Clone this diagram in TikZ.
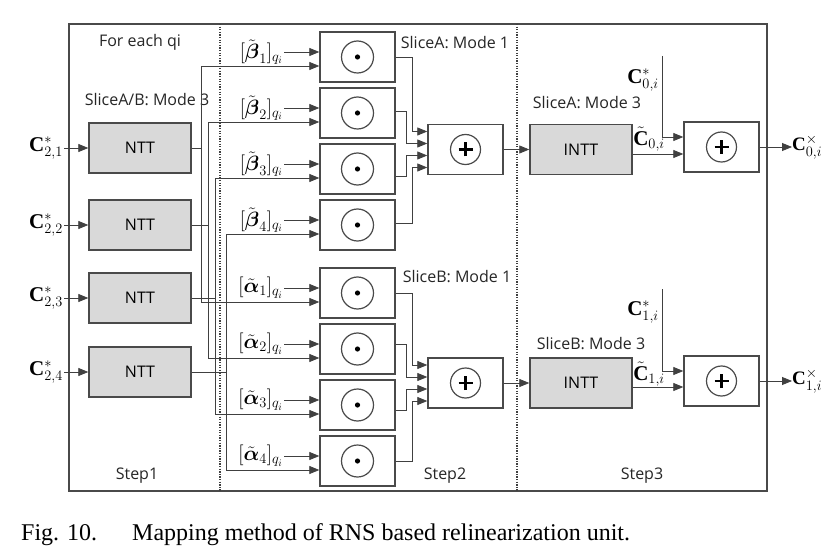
\documentclass[tikz,border=0pt]{standalone}
\usepackage{fontspec}
\usepackage{amsmath}
\setmainfont{Liberation Serif}
\newfontfamily\osans{Open Sans}
\usetikzlibrary{arrows.meta,calc}
\definecolor{lc}{HTML}{404040}
\definecolor{bc}{HTML}{4A4A4A}
\definecolor{boxgray}{HTML}{D9D9D9}
\newcommand{\sansfont}{\osans\fontsize{16}{19}\selectfont}
\newcommand{\mlblfont}{\fontsize{21}{24}\selectfont}
\newcommand{\klblfont}{\fontsize{20}{23}\selectfont}
\newcommand{\olblfont}{\fontsize{19}{22}\selectfont}
\tikzset{
  ln/.style={draw=lc, line width=0.8pt},
  arr/.style={draw=lc, line width=0.8pt, -{Triangle[length=10pt,width=8pt]}},
  gbox/.style={draw=bc, fill=boxgray, line width=1.4pt, minimum width=102pt, minimum height=50pt, inner sep=0pt, font=\sansfont},
  wbox/.style={draw=bc, fill=white, line width=1.4pt, minimum width=75pt, minimum height=50pt, inner sep=0pt},
  lbl/.style={font=\sansfont, inner sep=0pt, text=black!85},
  mlbl/.style={font=\mlblfont, inner sep=1pt},
  klbl/.style={font=\klblfont, inner sep=1pt},
  olbl/.style={font=\olblfont, inner sep=0pt},
  dotline/.style={draw=lc, line width=1.3pt, dash pattern=on 1.3pt off 1.3pt},
  ring/.style={draw=bc, line width=1.2pt},
}
\begin{document}
\begin{tikzpicture}[x=1pt,y=-1pt]
\useasboundingbox (0,0) rectangle (821,553);
\fill[white] (0,0) rectangle (821,553);
% outer frame and step separators
\draw[draw=bc, line width=1.5pt] (69,24) rectangle (767,491);
\draw[dotline] (220,24) -- (220,491);
\draw[dotline] (517,24) -- (517,491);

% texts
\node[lbl] (t1) at (140,42) {For each qi};
\node[lbl] (t2) at (147,100) {SliceA/B: Mode 3};
\node[lbl] (t3) at (455,43) {SliceA: Mode 1};
\node[lbl] (t4) at (457,277) {SliceB: Mode 1};
\node[lbl] (t5) at (587,103) {SliceA: Mode 3};
\node[lbl] (t6) at (591,344) {SliceB: Mode 3};
\node[lbl] (s1) at (137,476) {Step1};
\node[lbl] (s2) at (445,476) {Step2};
\node[lbl] (s3) at (642,476) {Step3};

% NTT boxes
\node[gbox] (n1) at (140,148) {NTT};
\node[gbox] (n2) at (140,225) {NTT};
\node[gbox] (n3) at (140,298) {NTT};
\node[gbox] (n4) at (140,372) {NTT};

% input labels
\node[mlbl, anchor=east] (c1) at (64,148) {$\mathbf{C}^{*}_{2,1}$};
\node[mlbl, anchor=east] (c2) at (64,225) {$\mathbf{C}^{*}_{2,2}$};
\node[mlbl, anchor=east] (c3) at (64,298) {$\mathbf{C}^{*}_{2,3}$};
\node[mlbl, anchor=east] (c4) at (64,372) {$\mathbf{C}^{*}_{2,4}$};
\foreach \i in {1,...,4} { \draw[arr] (c\i.east) -- (n\i.west); }

% multiplier boxes
\foreach \nm/\yy in {b1/57,b2/113,b3/169,b4/225,a1/293,a2/349,a3/405,a4/461} {
  \node[wbox] (\nm) at (357.5,\yy) {};
  \draw[ring] (\nm.center) circle (16pt);
  \fill[black] (\nm.center) circle (2.6pt);
}

% constant labels
\node[klbl, anchor=east] (lb1) at (284,52) {$[\tilde{\boldsymbol{\beta}}_1]_{q_i}$};
\node[klbl, anchor=east] (lb2) at (284,108) {$[\tilde{\boldsymbol{\beta}}_2]_{q_i}$};
\node[klbl, anchor=east] (lb3) at (284,164) {$[\tilde{\boldsymbol{\beta}}_3]_{q_i}$};
\node[klbl, anchor=east] (lb4) at (284,220) {$[\tilde{\boldsymbol{\beta}}_4]_{q_i}$};
\node[klbl, anchor=east] (la1) at (284,288) {$[\tilde{\boldsymbol{\alpha}}_1]_{q_i}$};
\node[klbl, anchor=east] (la2) at (284,344) {$[\tilde{\boldsymbol{\alpha}}_2]_{q_i}$};
\node[klbl, anchor=east] (la3) at (284,400) {$[\tilde{\boldsymbol{\alpha}}_3]_{q_i}$};
\node[klbl, anchor=east] (la4) at (284,456) {$[\tilde{\boldsymbol{\alpha}}_4]_{q_i}$};
\foreach \i in {1,...,4} {
  \draw[arr] (lb\i.east) -- (lb\i.east -| b\i.west);
  \draw[arr] (la\i.east) -- (la\i.east -| a\i.west);
}

% NTT outputs to multipliers
\draw[arr] (n1.east) -- ++(10,0) |- ([yshift=-9pt]b1.west);
\draw[arr] (n1.east) -- ++(10,0) |- ([yshift=-9pt]a1.west);
\draw[arr] (n2.east) -- ++(17,0) |- ([yshift=-9pt]b2.west);
\draw[arr] (n2.east) -- ++(17,0) |- ([yshift=-9pt]a2.west);
\draw[arr] (n3.east) -- ++(24,0) |- ([yshift=-9pt]b3.west);
\draw[arr] (n3.east) -- ++(24,0) |- ([yshift=-9pt]a3.west);
\draw[arr] (n4.east) -- ++(35,0) |- ([yshift=-9pt]b4.west);
\draw[arr] (n4.east) -- ++(35,0) |- ([yshift=-9pt]a4.west);

% adders step 2
\node[wbox] (sa) at (465.5,149.5) {};
\node[wbox] (sb) at (465.5,383) {};
\foreach \nm in {sa,sb} {
  \draw[ring] (\nm.center) circle (15pt);
  \draw[black, line width=2.8pt] ([xshift=-7pt]\nm.center) -- ([xshift=7pt]\nm.center);
  \draw[black, line width=2.8pt] ([yshift=-7pt]\nm.center) -- ([yshift=7pt]\nm.center);
}
\draw[arr] (b1.east) -- ++(17,0) |- ([yshift=18pt]sa.west);
\draw[arr] ([yshift=2pt]b2.east) -- ++(11,0) |- ([yshift=6pt]sa.west);
\draw[arr] ([yshift=-7pt]b3.east) -- ++(11,0) |- ([yshift=-6pt]sa.west);
\draw[arr] ([yshift=2pt]b4.east) -- ++(17,0) |- ([yshift=-18pt]sa.west);
\draw[arr] (a1.east) -- ++(17,0) |- ([yshift=18pt]sb.west);
\draw[arr] ([yshift=5pt]a2.east) -- ++(11,0) |- ([yshift=6pt]sb.west);
\draw[arr] ([yshift=-5pt]a3.east) -- ++(11,0) |- ([yshift=-6pt]sb.west);
\draw[arr] (a4.east) -- ++(17,0) |- ([yshift=-18pt]sb.west);

% INTT step 3
\node[gbox] (ia) at (581,149.5) {INTT};
\node[gbox] (ib) at (581,383) {INTT};
\draw[arr] (sa.east) -- (ia.west);
\draw[arr] (sb.east) -- (ib.west);

% final adders
\node[wbox] (fa) at (721.5,147) {};
\node[wbox] (fb) at (721.5,381) {};
\foreach \nm in {fa,fb} {
  \draw[ring] (\nm.center) circle (15pt);
  \draw[black, line width=2.8pt] ([xshift=-7pt]\nm.center) -- ([xshift=7pt]\nm.center);
  \draw[black, line width=2.8pt] ([yshift=-7pt]\nm.center) -- ([yshift=7pt]\nm.center);
}
\draw[arr] ([yshift=-4.5pt]ia.east) -- ([yshift=-4.5pt]ia.east -| fa.west);
\draw[arr] ([yshift=-4pt]ib.east) -- ([yshift=-4pt]ib.east -| fb.west);
\coordinate (ta) at (662,56);
\coordinate (tb) at (662,289);
\draw[arr] (ta) |- ([yshift=10pt]fa.west);
\draw[arr] (tb) |- ([yshift=10pt]fb.west);
\node[mlbl] (k0) at (643,80) {$\mathbf{C}^{*}_{0,i}$};
\node[mlbl] (k1) at (643,312) {$\mathbf{C}^{*}_{1,i}$};
\node[mlbl] (m0) at (649,139) {$\tilde{\mathbf{C}}_{0,i}$};
\node[mlbl] (m1) at (649,374) {$\tilde{\mathbf{C}}_{1,i}$};
\node[olbl, anchor=west] (o0) at (792,147) {$\mathbf{C}^{\times}_{0,i}$};
\node[olbl, anchor=west] (o1) at (792,381) {$\mathbf{C}^{\times}_{1,i}$};
\draw[arr] (fa.east) -- (o0.west);
\draw[arr] (fb.east) -- (o1.west);

% caption
\node[anchor=base west, inner sep=0pt, font=\fontsize{24}{29}\selectfont] (cap1) at (21,540) {Fig. 10.};
\node[anchor=base west, inner sep=0pt, font=\fontsize{24}{29}\selectfont] (cap2) at (132,540) {Mapping method of RNS based relinearization unit.};
\end{tikzpicture}
\end{document}
